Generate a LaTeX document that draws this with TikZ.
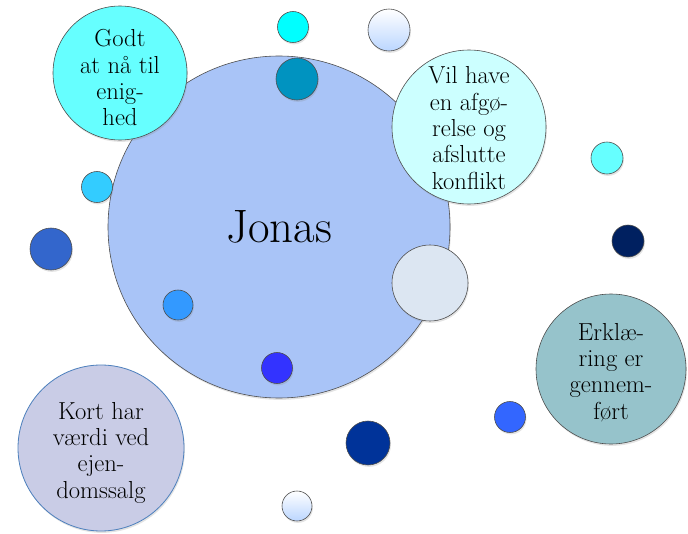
\documentclass[tikz,border=0pt]{standalone}
\usetikzlibrary{shadows}

\definecolor{jonasfill}{HTML}{A9C4F7}
\definecolor{godtfill}{HTML}{66FFFF}
\definecolor{afgfill}{HTML}{CCFFFF}
\definecolor{erklfill}{HTML}{96C3CB}
\definecolor{kortfill}{HTML}{C9CCE6}
\definecolor{kortline}{HTML}{4F81BD}
\definecolor{greyfill}{HTML}{DCE6F2}
\definecolor{paleblue}{HTML}{BBD6FF}

\begin{document}
\begin{tikzpicture}[x=.03cm,y=-.03cm,
  bubble/.style={circle,draw=black!70,line width=.5pt,inner sep=0pt,
    drop shadow={opacity=.22,shadow xshift=.8pt,shadow yshift=-1.6pt}},
  dot/.style={bubble,minimum size=#1*.06cm},
  pale/.style={top color=white,bottom color=paleblue},
  caption/.style={align=center,inner sep=0pt,
    font=\fontsize{21}{22.5}\selectfont}
]
% picture measured in pixels of the 688x534 reference
\useasboundingbox (0,0) rectangle (688,534);

\node[dot=171,fill=jonasfill,font=\fontsize{40}{42}\selectfont]
  (jonas) at (279,227) {Jonas};

\node[dot=67,fill=godtfill] (godt) at (120,73) {};
\node[caption] (godt-text) at ([yshift=-4pt]godt.center) {Godt\\at nå til\\enig-\\hed};

\node[dot=77,fill=afgfill] (afg) at (469,127) {};
\node[caption] (afg-text) at ([yshift=-1pt]afg.center) {Vil have\\en afgø-\\relse og\\afslutte\\konflikt};

\node[dot=75,fill=erklfill] (erkl) at (611,369) {};
\node[caption] (erkl-text) at ([yshift=-3pt]erkl.center) {Erklæ-\\ring er\\gennem-\\ført};

\node[dot=83,fill=kortfill,draw=kortline,line width=.7pt] (kort) at (101,448) {};
\node[caption] (kort-text) at ([yshift=-4pt]kort.center)
  {Kort har\\værdi ved\\ejen-\\domssalg};

\node[dot=38,fill=greyfill] (grey) at (430,283) {};

% small dots
\node[dot=15.5,fill={rgb,255:red,0;green,255;blue,255}] (d-top) at (293,27) {};
\node[dot=21,pale] (d-pale-top) at (389,30) {};
\node[dot=21,fill={rgb,255:red,0;green,147;blue,192}] (d-teal) at (297,79) {};
\node[dot=16,fill=godtfill] (d-right) at (607,158) {};
\node[dot=16,fill={rgb,255:red,0;green,32;blue,96}] (d-navy) at (628,241) {};
\node[dot=15.5,fill={rgb,255:red,51;green,204;blue,255}] (d-sky) at (97,187) {};
\node[dot=21,fill={rgb,255:red,51;green,102;blue,204}] (d-royal) at (51,249) {};
\node[dot=15,fill={rgb,255:red,51;green,153;blue,255}] (d-azure) at (178,305) {};
\node[dot=15.5,fill={rgb,255:red,51;green,51;blue,255}] (d-bright) at (277,368) {};
\node[dot=22,fill={rgb,255:red,0;green,51;blue,153}] (d-deep) at (368,443) {};
\node[dot=15.5,fill={rgb,255:red,51;green,102;blue,255}] (d-mid) at (510,417) {};
\node[dot=15,pale] (d-pale-bottom) at (297,506) {};
\end{tikzpicture}
\end{document}
